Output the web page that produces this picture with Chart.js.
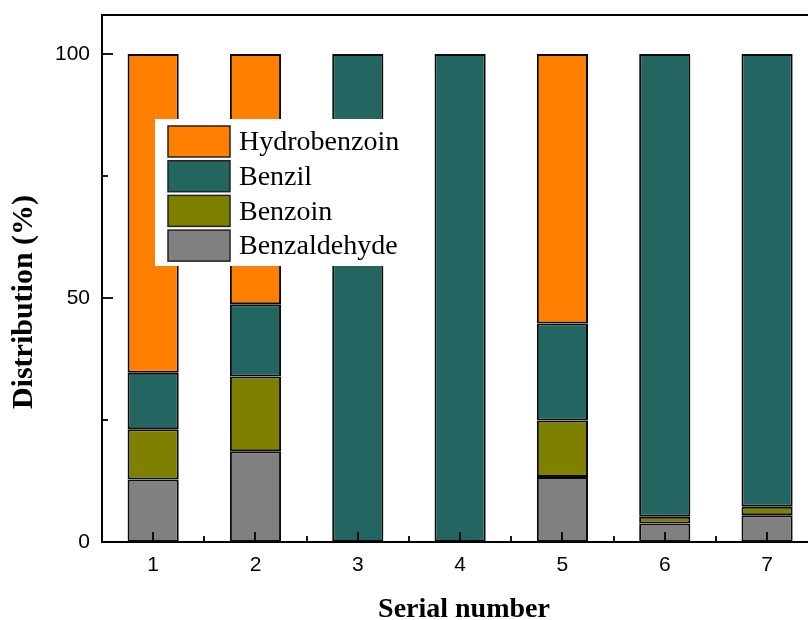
<!DOCTYPE html>
<html>
<head>
<meta charset="utf-8">
<script src="https://cdn.jsdelivr.net/npm/chart.js@4/dist/chart.umd.min.js"></script>
<style>
  html, body { margin: 0; padding: 0; background: #fff; overflow: hidden; }
  #wrap { width: 808px; height: 620px; }
</style>
</head>
<body>
<div id="wrap"><canvas id="c" width="808" height="620"></canvas></div>
<script>
// Product distribution (%) for each serial number
const categories = ['1', '2', '3', '4', '5', '6', '7'];
const benzaldehyde = [12.8, 18.6, 0, 0, 13.3, 3.8, 5.5];
const benzoin      = [10.3, 15.3, 0, 0, 11.6, 1.4, 1.7];
const benzil       = [11.6, 14.8, 100, 100, 19.9, 94.8, 92.8];
const hydrobenzoin = [65.3, 51.3, 0, 0, 55.2, 0, 0];
const yTicks = [0, 50, 100];
const yMinorTicks = [25, 75];

const series = [
  { label: 'Benzaldehyde', values: benzaldehyde, color: '#808080' },
  { label: 'Benzoin',      values: benzoin,      color: '#808000' },
  { label: 'Benzil',       values: benzil,       color: '#236561' },
  { label: 'Hydrobenzoin', values: hydrobenzoin, color: '#FF8000' }
];

const datasets = series.map(s => ({
  label: s.label,
  data: s.values.map((v, i) => ({ x: i + 1, y: v > 0 ? v : null })),
  backgroundColor: s.color,
  borderColor: '#0a0a0a',
  borderWidth: 2,
  borderSkipped: false,
  categoryPercentage: 1.0,
  barPercentage: 0.5
}));

const SERIF = '"Liberation Serif", "Times New Roman", serif';
const SANS = '"Liberation Sans", Arial, sans-serif';

// Frame, inward tick marks, legend box and axis titles
const decorations = {
  id: 'decorations',
  afterDatasetsDraw(chart) {
    const { ctx, chartArea: a, scales: { x, y } } = chart;
    ctx.save();
    ctx.strokeStyle = '#000';
    ctx.lineCap = 'butt';

    // top frame line
    ctx.lineWidth = 2;
    ctx.beginPath();
    ctx.moveTo(a.left - 1, a.top);
    ctx.lineTo(a.right, a.top);
    ctx.stroke();

    ctx.lineWidth = 1.8;
    // y ticks (inward)
    yTicks.forEach(v => {
      const py = Math.round(y.getPixelForValue(v));
      ctx.beginPath(); ctx.moveTo(a.left, py); ctx.lineTo(a.left + 11, py); ctx.stroke();
    });
    yMinorTicks.forEach(v => {
      const py = Math.round(y.getPixelForValue(v));
      ctx.beginPath(); ctx.moveTo(a.left, py); ctx.lineTo(a.left + 6, py); ctx.stroke();
    });
    // x ticks (inward)
    categories.forEach((c, i) => {
      const px = Math.round(x.getPixelForValue(i + 1));
      ctx.beginPath(); ctx.moveTo(px, a.bottom); ctx.lineTo(px, a.bottom - 10); ctx.stroke();
      const pm = Math.round(x.getPixelForValue(i + 1.5));
      if (pm < a.right) {
        ctx.beginPath(); ctx.moveTo(pm, a.bottom); ctx.lineTo(pm, a.bottom - 6); ctx.stroke();
      }
    });
    ctx.restore();
  },
  afterDraw(chart) {
    const { ctx, chartArea: a } = chart;
    ctx.save();

    // legend
    const lx = a.left + 53, ly = 119, lw = 277, lh = 147;
    ctx.fillStyle = '#fff';
    ctx.fillRect(lx, ly, lw, lh);
    const order = [...series].reverse();
    ctx.font = '28px ' + SERIF;
    ctx.textBaseline = 'middle';
    ctx.textAlign = 'left';
    order.forEach((s, i) => {
      const sy = ly + 7 + i * 34.7;
      ctx.fillStyle = s.color;
      ctx.fillRect(lx + 13, sy, 62, 31);
      ctx.strokeStyle = '#222';
      ctx.lineWidth = 1.5;
      ctx.strokeRect(lx + 13, sy, 62, 31);
      ctx.fillStyle = '#000';
      ctx.fillText(s.label, lx + 84, sy + 17);
    });

    // axis titles
    ctx.fillStyle = '#000';
    ctx.font = 'bold 28px ' + SERIF;
    ctx.textAlign = 'center';
    ctx.textBaseline = 'alphabetic';
    ctx.fillText('Serial number', 464, 617);

    ctx.font = 'bold 30px ' + SERIF;
    ctx.translate(32, 302);
    ctx.rotate(-Math.PI / 2);
    ctx.fillText('Distribution (%)', 0, 0);
    ctx.restore();
  }
};

new Chart(document.getElementById('c'), {
  type: 'bar',
  data: { datasets },
  options: {
    responsive: false,
    devicePixelRatio: 1,
    animation: false,
    layout: { padding: { left: 0, top: 15, right: 0, bottom: 0 } },
    plugins: { legend: { display: false }, tooltip: { enabled: false } },
    scales: {
      x: {
        type: 'linear',
        stacked: true,
        offset: false,
        min: 0.5,
        max: 7.4,
        grid: { display: false, drawTicks: false, offset: false },
        border: { display: true, color: '#000', width: 2 },
        afterBuildTicks: s => { s.ticks = categories.map((c, i) => ({ value: i + 1 })); },
        afterFit: s => { s.height = 78; s.paddingLeft = 0; s.paddingRight = 0; },
        ticks: {
          padding: 11,
          color: '#000',
          font: { family: SANS, size: 21 },
          callback: (v) => categories[Math.round(v) - 1]
        }
      },
      y: {
        stacked: true,
        min: 0,
        max: 108,
        grid: { display: false, drawTicks: false },
        border: { display: true, color: '#000', width: 2 },
        afterBuildTicks: s => { s.ticks = yTicks.map(v => ({ value: v })); },
        afterFit: s => { s.width = 102; s.paddingTop = 0; s.paddingBottom = 0; },
        ticks: {
          padding: 12,
          color: '#000',
          font: { family: SANS, size: 21 }
        }
      }
    }
  },
  plugins: [decorations]
});
</script>
</body>
</html>
